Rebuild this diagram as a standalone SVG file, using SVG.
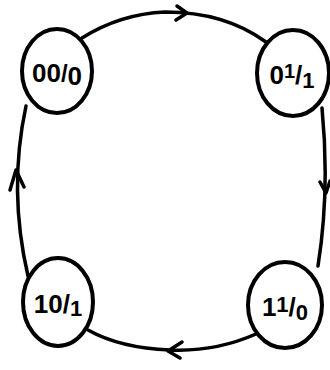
<svg xmlns="http://www.w3.org/2000/svg" width="330" height="370" viewBox="0 0 330 370">
<defs>
<style>
.node ellipse{fill:#fff;stroke:#000;stroke-width:4}
.node text{font-family:"Liberation Sans",Arial,sans-serif;font-weight:bold;font-size:26px;fill:#000;text-anchor:middle}
.edge{fill:none;stroke:#000;stroke-width:3.5;stroke-linecap:round}
.head{fill:none;stroke:#000;stroke-width:3.5;stroke-linecap:round;stroke-linejoin:round}
</style>
</defs>
<rect width="330" height="370" fill="#fff"/>
<g id="connectors">
<path class="edge" d="M82,38 Q120,14 165,12 Q225,12 266,42"/>
<path class="head" d="M177,6 L187,13 L176,20"/>
<path class="edge" d="M322,108 Q330,190 318,266"/>
<path class="head" d="M320,182 L326,193 L330,181"/>
<path class="edge" d="M256,334 Q215,352 170,350 Q120,348 88,330"/>
<path class="head" d="M182,342 L168,351 L180,358"/>
<path class="edge" d="M28,276 Q8,190 26,106"/>
<path class="head" d="M10,190 L16,170 L24,187"/>
</g>
<g id="n00" class="node">
<ellipse cx="57" cy="71" rx="35" ry="42"/>
<text x="57" y="82">00<tspan font-size="24">/</tspan><tspan dy="3">0</tspan></text>
</g>
<g id="n01" class="node">
<ellipse cx="293" cy="73" rx="36" ry="43"/>
<text x="292" y="84">0<tspan dy="-6" font-size="20">1</tspan><tspan dy="6">/</tspan><tspan dy="4" font-size="22">1</tspan></text>
</g>
<g id="n10" class="node">
<ellipse cx="58" cy="302" rx="35" ry="44"/>
<text x="58" y="313">10<tspan>/</tspan><tspan dy="3" font-size="22">1</tspan></text>
</g>
<g id="n11" class="node">
<ellipse cx="285" cy="305" rx="37" ry="43"/>
<text x="285" y="316">1<tspan dy="-4" font-size="22">1</tspan><tspan dy="4">/</tspan><tspan dy="4" font-size="22">0</tspan></text>
</g>
</svg>
